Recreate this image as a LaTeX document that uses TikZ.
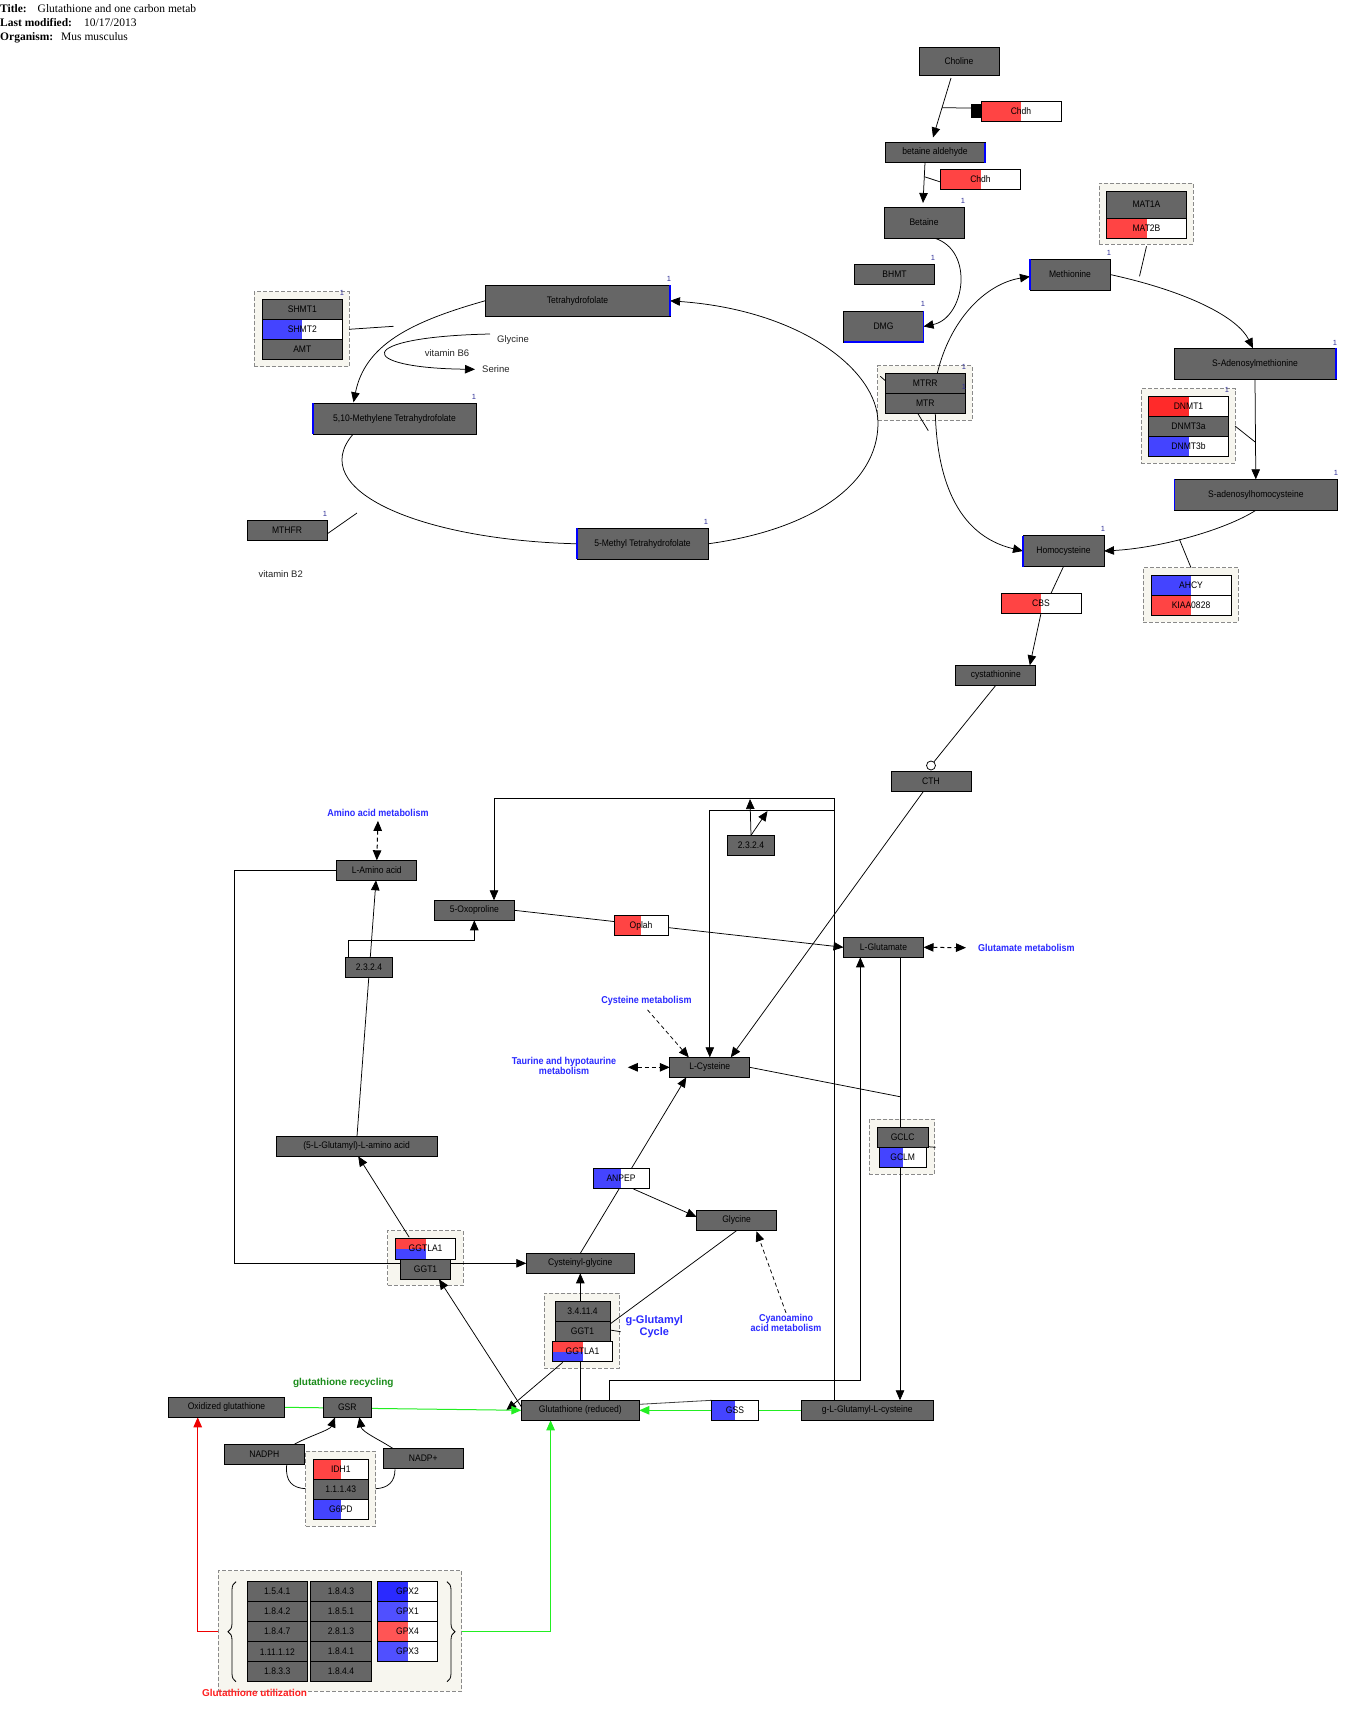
\documentclass[tikz,border=0pt]{standalone}
\usepackage{fontspec}
\setmainfont{Liberation Sans}
\newfontfamily\bxfont[FakeStretch=0.9]{Liberation Sans}
\newfontfamily\serfont{Liberation Serif}
\usetikzlibrary{arrows.meta,calc,decorations.pathreplacing}
\pgfdeclarelayer{bg}
\pgfdeclarelayer{edges}
\pgfsetlayers{bg,edges,main}
\definecolor{boxgray}{HTML}{666666}
\definecolor{hired}{HTML}{FF4444}
\definecolor{dkred}{HTML}{FF2A2A}
\definecolor{hiblue}{HTML}{4444FF}
\definecolor{dkblue}{HTML}{2A2AFF}
\definecolor{mdblue}{HTML}{5050FF}
\definecolor{gpxred}{HTML}{FF5555}
\definecolor{grpfill}{HTML}{F7F6EF}
\definecolor{grpline}{HTML}{8A8A8A}
\definecolor{lblue}{HTML}{2A2AFF}
\definecolor{lgreen}{HTML}{1A8C1A}
\definecolor{brgreen}{HTML}{22EE22}
\definecolor{brred}{HTML}{EE0000}
\definecolor{lred}{HTML}{FF2020}
\definecolor{numblue}{HTML}{333399}
\tikzset{
 box/.style={draw=black, line width=0.9pt, fill=boxgray, inner sep=0pt, outer sep=0pt, font=\bxfont\fontsize{9.5}{10}\selectfont, text=black},
 grp/.style={draw=grpline, dash pattern=on 4pt off 2pt, fill=grpfill, line width=0.8pt, inner sep=0pt, outer sep=0pt},
 ln/.style={line width=0.75pt, draw=black},
 arr/.style={ln, -{Triangle[length=10pt,width=8.5pt]}},
 dsarr/.style={ln, dash pattern=on 4pt off 3pt, -{Triangle[length=10pt,width=8.5pt]}},
 darr/.style={line width=1pt, draw=black, dash pattern=on 4pt off 3pt, {Triangle[length=10pt,width=8.5pt]}-{Triangle[length=10pt,width=8.5pt]}},
 garr/.style={line width=1pt, draw=brgreen, -{Triangle[length=10pt,width=8.5pt]}},
 rarr/.style={line width=1pt, draw=brred, -{Triangle[length=10pt,width=8.5pt]}},
 num/.style={text=numblue, font=\fontsize{7.5}{8}\selectfont, inner sep=0pt},
 lbl/.style={text=lblue, font=\bxfont\bfseries\fontsize{10}{10}\selectfont, align=center, inner sep=0pt},
 plain/.style={text=black!85, font=\fontsize{9.5}{10}\selectfont, inner sep=0pt},
 bedge/.style={draw=blue, line width=1.1pt},
 hdb/.style={anchor=base west, inner sep=0pt, font=\serfont\bfseries\fontsize{11.5}{13}\selectfont},
 hdr/.style={anchor=base west, inner sep=0pt, font=\serfont\fontsize{11.5}{13}\selectfont},
}
\newcommand\Bx[6]{\node[box,minimum width=#4pt,minimum height=#5pt] (#1) at (#2,#3) {#6};}
\newcommand\Gn[7]{\node[box,fill=white,minimum width=#5pt,minimum height=#6pt,path picture={\fill[#1] (path picture bounding box.south west) rectangle (path picture bounding box.north);}] (#2) at (#3,#4) {#7};}
\newcommand\Gm[6]{\node[box,fill=white,minimum width=#4pt,minimum height=#5pt,path picture={\fill[hired] (path picture bounding box.west) rectangle (path picture bounding box.north);\fill[hiblue] (path picture bounding box.south west) rectangle (path picture bounding box.center);}] (#1) at (#2,#3) {#6};}
\newcommand\Gp[5]{\node[grp,minimum width=#4pt,minimum height=#5pt] (#1) at (#2,#3) {};}
\newcommand\Nm[3]{\node[num] (#1) at (#2,#3) {1};}
\begin{document}
\begin{tikzpicture}[x=1pt,y=-1pt]
\begin{pgfonlayer}{bg}
\fill[white] (0,0) rectangle (1366,1730);
\Gp{gMAT}{1146}{213.5}{94}{61}
\Gp{gDNMT}{1188}{426}{94}{74.6}
\Gp{gAHCY}{1190.5}{595}{95}{54.6}
\Gp{gMTRR}{925}{393}{94.6}{54.3}
\Gp{gSHMT}{301.5}{329.3}{95}{75}
\Gp{gGCLC}{902}{1146.5}{65.6}{55}
\Gp{gGGTa}{425.3}{1258}{75.4}{54.6}
\Gp{gGGTb}{581.8}{1330.8}{75}{75}
\Gp{gIDH}{340.7}{1488.7}{70}{74.7}
\Gp{gGPX}{340}{1631}{243.4}{120.6}
\end{pgfonlayer}
\useasboundingbox (0,0) rectangle (1366,1730);

% header
\node[hdb] (hT) at (0,12.8) {Title:};
\node[hdr] (hTv) at (37.5,12.8) {Glutathione and one carbon metab};
\node[hdb] (hM) at (0,26.8) {Last modified:};
\node[hdr] (hMv) at (84,26.8) {10/17/2013};
\node[hdb] (hO) at (0,40.2) {Organism:};
\node[hdr] (hOv) at (61,40.2) {Mus musculus};

% top right
\Bx{choline}{959}{61}{80}{28}{Choline}
\Gn{hired}{chdh1}{1021}{111}{80}{20}{Chdh}
\Bx{betald}{935}{152.5}{100}{20}{betaine aldehyde}
\Gn{hired}{chdh2}{980.5}{179}{80}{20}{Chdh}
\Bx{betaine}{924}{222.5}{80}{31}{Betaine}
\Bx{bhmt}{894.5}{274}{80}{20}{BHMT}
\Bx{dmg}{883.5}{326.5}{80}{31}{DMG}
\Bx{mat1a}{1146.5}{204.5}{80}{27}{MAT1A}
\Gn{hired}{mat2b}{1146.5}{228.3}{80}{20}{MAT2B}
\Bx{methionine}{1070}{274.5}{80}{31}{Methionine}
\Bx{sam}{1255}{363.8}{162}{31}{S-Adenosylmethionine}
\Gn{dkred}{dnmt1}{1188.5}{406.5}{80}{20}{DNMT1}
\Bx{dnmt3a}{1188.5}{426.5}{80}{20}{DNMT3a}
\Gn{hiblue}{dnmt3b}{1188.5}{446.5}{80}{20}{DNMT3b}
\Bx{sah}{1255.8}{494.8}{163}{31}{S-adenosylhomocysteine}
\Bx{hcy}{1063.5}{551}{81}{31}{Homocysteine}
\Gn{hiblue}{ahcy}{1191}{585.7}{80}{20}{AHCY}
\Gn{hired}{kiaa}{1191}{605.7}{80}{20}{KIAA0828}
\Bx{mtrr}{925.3}{383.3}{80}{20}{MTRR}
\Bx{mtr}{925.3}{403.3}{80}{20}{MTR}
\Gn{hired}{cbs}{1041}{603.3}{80}{20}{CBS}
\Bx{cysta}{995.8}{675.3}{80}{20}{cystathionine}
\Bx{cth}{931}{781}{80}{20}{CTH}

% folate cycle
\Bx{shmt1}{302.3}{309.3}{80}{20}{SHMT1}
\Gn{hiblue}{shmt2}{302.3}{329.3}{80}{20}{SHMT2}
\Bx{amt}{302.3}{349.3}{80}{20}{AMT}
\Bx{thf}{577.5}{300.8}{185}{31}{Tetrahydrofolate}
\Bx{mthf510}{394.5}{418.8}{163}{31}{5,10-Methylene Tetrahydrofolate}
\Bx{mthfr}{287}{530}{80}{20}{MTHFR}
\Bx{methylthf}{642.5}{543.8}{131}{31}{5-Methyl Tetrahydrofolate}
\node[plain,anchor=west] (glyT) at (497,340) {Glycine};
\node[plain,anchor=west] (serT) at (482,369.3) {Serine};
\node[plain] (vb6T) at (447,352.7) {vitamin B6};
\node[plain,anchor=west] (vb2T) at (258.3,574) {vitamin B2};

% numbers
\Nm{n1}{963}{201}
\Nm{n2}{933}{258}
\Nm{n3}{923}{304}
\Nm{n4}{1109}{253}
\Nm{n5}{1335}{343}
\Nm{n6}{1227}{390}
\Nm{n7}{1336}{473}
\Nm{n8}{1103}{529}
\Nm{n9}{964}{367}
\Nm{n10}{964}{387}
\Nm{n11}{342}{293}
\Nm{n12}{669}{279}
\Nm{n13}{474}{397}
\Nm{n14}{325}{514}
\Nm{n15}{706}{522}

% lower part
\Bx{laa}{376.8}{870.3}{80}{20}{L-Amino acid}
\Bx{oxo}{474.3}{910.3}{80}{20}{5-Oxoproline}
\Bx{ecA}{751}{845.3}{47}{20}{2.3.2.4}
\Gn{hired}{oplah}{641}{925.8}{54}{20}{Oplah}
\Bx{glu}{883.5}{947.3}{80}{20}{L-Glutamate}
\Bx{ecB}{369}{967.3}{47}{20}{2.3.2.4}
\Bx{cys}{709.8}{1067.3}{80}{20}{L-Cysteine}
\Bx{gclc}{902.7}{1137.3}{51}{20}{GCLC}
\Gn{hiblue}{gclm}{902.7}{1157.3}{47}{20}{GCLM}
\Gn{hiblue}{anpep}{621}{1178.3}{56}{20}{ANPEP}
\Bx{glyB}{736.5}{1220.3}{80}{20}{Glycine}
\Bx{glamino}{356.6}{1146.3}{161}{20}{(5-L-Glutamyl)-L-amino acid}
\Gm{ggtla1a}{425.6}{1248.6}{60}{20.7}{GGTLA1}
\Bx{ggt1a}{425.6}{1269.3}{50}{20}{GGT1}
\Bx{cysgly}{580.3}{1263.3}{108}{20}{Cysteinyl-glycine}
\Bx{e34114}{582.5}{1311.7}{55}{20}{3.4.11.4}
\Bx{ggt1b}{582.5}{1331.7}{55}{20}{GGT1}
\Gm{ggtla1b}{582.5}{1351.7}{60}{20}{GGTLA1}
\Bx{gsh}{580.3}{1410.3}{118}{20}{Glutathione (reduced)}
\Gn{hiblue}{gss}{735}{1410.3}{47}{20}{GSS}
\Bx{gglc}{867.2}{1410.3}{132}{20}{g-L-Glutamyl-L-cysteine}
\Bx{gssg}{226.5}{1407.3}{116}{20}{Oxidized glutathione}
\Bx{gsr}{347.3}{1407.3}{47.5}{20}{GSR}
\Bx{nadph}{264.3}{1454.3}{80}{20}{NADPH}
\Bx{nadpp}{423.3}{1458.3}{80}{20}{NADP+}
\Gn{hired}{idh1}{340.8}{1469.3}{55}{20}{IDH1}
\Bx{e11143}{340.8}{1489.3}{55}{20}{1.1.1.43}
\Gn{hiblue}{g6pd}{340.8}{1509.3}{55}{20}{G6PD}

% GPX block
\Bx{c11}{277.3}{1591.7}{60}{20}{1.5.4.1}
\Bx{c12}{277.3}{1611.7}{60}{20}{1.8.4.2}
\Bx{c13}{277.3}{1631.7}{60}{20}{1.8.4.7}
\Bx{c14}{277.3}{1651.7}{60}{20}{1.11.1.12}
\Bx{c15}{277.3}{1671.7}{60}{20}{1.8.3.3}
\Bx{c21}{341}{1591.7}{60.6}{20}{1.8.4.3}
\Bx{c22}{341}{1611.7}{60.6}{20}{1.8.5.1}
\Bx{c23}{341}{1631.7}{60.6}{20}{2.8.1.3}
\Bx{c24}{341}{1651.7}{60.6}{20}{1.8.4.1}
\Bx{c25}{341}{1671.7}{60.6}{20}{1.8.4.4}
\Gn{dkblue}{gpx2}{407.5}{1591.7}{59.6}{20}{GPX2}
\Gn{mdblue}{gpx1}{407.5}{1611.7}{59.6}{20}{GPX1}
\Gn{gpxred}{gpx4}{407.5}{1631.7}{59.6}{20}{GPX4}
\Gn{mdblue}{gpx3}{407.5}{1651.7}{59.6}{20}{GPX3}
\draw[line width=0.8pt, decorate, decoration={brace, amplitude=8pt}] (236,1681.7) -- (236,1581.7);
\draw[line width=0.8pt, decorate, decoration={brace, amplitude=8pt}] (447,1581.7) -- (447,1681.7);

% labels
\node[lbl] (aamT) at (378,813) {Amino acid metabolism};
\node[lbl,anchor=west] (gmT) at (978,947.7) {Glutamate metabolism};
\node[lbl] (csT) at (646.5,1001) {Cysteine metabolism};
\node[lbl] (taurT) at (564,1066) {Taurine and hypotaurine\\metabolism};
\node[lbl] (cyT) at (786,1322.7) {Cyanoamino\\acid metabolism};
\node[text=lblue, font=\bfseries\fontsize{11}{11.6}\selectfont, align=center, inner sep=0pt] (ggcT) at (654.3,1326.5) {g-Glutamyl\\Cycle};
\node[text=lgreen, font=\bfseries\fontsize{10}{10}\selectfont, inner sep=0pt] (grT) at (343.3,1383.3) {glutathione recycling};
\node[text=lred, font=\bfseries\fontsize{10}{10}\selectfont, inner sep=0pt] (guT) at (254.5,1693.3) {Glutathione utilization};

% blue edges
\draw[bedge] (betald.north east) -- (betald.south east);
\draw[bedge] (dmg.north east) -- (dmg.south east) -- (dmg.south west);
\draw[bedge] (methionine.north west) -- (methionine.south west);
\draw[bedge] (sam.north east) -- (sam.south east);
\draw[bedge] (sah.north west) -- (sah.south west);
\draw[bedge] (hcy.north west) -- (hcy.south west);
\draw[bedge] (thf.north east) -- (thf.south east);
\draw[bedge] (mthf510.north west) -- (mthf510.south west);
\draw[bedge] (methylthf.north west) -- (methylthf.south west);

\begin{pgfonlayer}{edges}
% top right
\draw[arr] ($(choline.south)+(-8,3)$) -- coordinate[pos=0.5] (tA) ($(betald.north)+(-2,-5)$);
\draw[ln] (tA) -- ($(chdh1.west)+(-10,-3)$);
\fill ($(chdh1.west)+(-10,-7)$) rectangle ($(chdh1.west)+(0,7)$);
\draw[arr] ($(betald.south)+(-10,0)$) -- coordinate[pos=0.35] (tB) ($(betaine.north)+(-1,-4)$);
\draw[ln] (tB) -- ($(chdh2.west)+(0,3)$);
\draw[arr] ($(betaine.south)+(10,0)$) .. controls (975,250) and (965,318) .. (dmg.east);
\draw[ln] ($(mat2b.south)+(0,8)$) -- ($(mat2b.south)+(-7,38)$);
\draw[arr] (methionine.east) .. controls (1190,292) and (1238,318) .. ($(sam.north)+(-2,0)$);
\draw[arr] ($(mtrr.north)+(12,0)$) .. controls (950,320) and (985,284) .. ($(methionine.west)+(0,2)$);
\draw[arr] (sam.south) -- coordinate[pos=0.63] (tC) (sah.north);
\draw[ln] (gDNMT.east) -- (tC);
\draw[arr] (sah.south) .. controls (1225,530) and (1160,548) .. coordinate[pos=0.56] (tD) (hcy.east);
\draw[ln] ($(gAHCY.north)+(0.5,0)$) -- (tD);
\draw[arr] ($(mtr.south)+(10,0)$) .. controls (937,475) and (955,535) .. (hcy.west);
\draw[ln] ($(mtrr.west)+(-5,-7)$) -- ($(mtrr.west)+(0,-2.6)$);
\draw[ln] ($(mtr.south)+(-7.6,0)$) -- ($(mtr.south)+(3,17.4)$);
\draw[ln] (hcy.south) -- ($(cbs.north)+(10,0)$);
\draw[arr] (cbs.south) -- ($(cysta.north)+(34,0)$);
\draw[ln] (cysta.south) -- ($(cth.north)+(0,-5.5)$);
% folate
\draw[ln] (gSHMT.east) -- ++(44.5,-3);
\draw[arr] (thf.west) .. controls (410,322) and (365,345) .. ($(mthf510.north)+(-41,-1)$);
\draw[arr] ($(glyT.west)+(-7,-6)$) .. controls (352,337) and (355,368) .. ($(serT.west)+(-7,0)$);
\draw[arr] (methylthf.east) .. controls (810,530) and (878,485) .. (878,423) .. controls (878,370) and (800,310) .. (thf.east);
\draw[ln] ($(mthf510.south)+(-41.5,0)$) .. controls (305,490) and (420,540) .. (methylthf.west);
\draw[ln] ($(mthfr.east)+(0,4)$) -- ++(30,-21);
% lower
\draw[darr] ($(aamT.south)+(0,4)$) -- (laa.north);
\draw[arr] (laa.west) -| (234.4,1263.3) -- (cysgly.west);
\draw[arr] ($(gglc.north)+(-33,0)$) |- (494,798.3) -- ($(oxo.north)+(19.7,0)$);
\coordinate (jA) at (834.2,810.3);
\draw[arr] (jA) -| (cys.north);
\draw[arr] ($(gsh.north)+(29,0)$) |- (860.3,1380) -- ($(glu.south)+(-23.2,0)$);
\coordinate (jB) at (750,799);
\coordinate (jC) at (767.5,811);
\draw[arr] (ecA.north) -- (jB);
\draw[arr] (ecA.north) -- (jC);
\draw[arr] (oxo.east) -- (glu.west);
\draw[darr] (glu.east) -- ($(gmT.west)+(-12,0)$);
\draw[arr] ($(glu.south)+(16.5,0)$) -- ($(gglc.north)+(32.8,0)$);
\coordinate (jD) at (900,1096.7);
\draw[ln] (cys.east) -- (jD);
\draw[ln] ($(gclc.east)+(0,9.4)$) -- ++(7.4,0.6);
\draw[arr] ($(cth.south)+(-8,1)$) -- ($(cys.north)+(21,0)$);
\draw[dsarr] ($(csT.south)+(1,4)$) -- ($(cys.north)+(-21,0)$);
\draw[darr] ($(cys.west)+(-42,0)$) -- (cys.west);
\draw[arr] (cysgly.north) -- ($(cys.south)+(-23.5,0)$);
\draw[arr] ($(anpep.south)+(12.5,0.7)$) -- ($(glyB.west)+(0,-3.5)$);
\draw[ln] ($(glyB.south)+(0,0.4)$) -- ($(ggt1b.east)+(0,-7.7)$);
\draw[dsarr] ($(cyT.north)+(0,-1)$) -- ($(glyB.south)+(20,1)$);
\draw[ln] ($(ggt1b.east)+(0,-1.7)$) -- ($(ggt1b.east)+(10.7,0)$);
\draw[arr] (gsh.north) -- (cysgly.south);
\draw[arr] ($(ggtla1b.south)+(-19.7,0.6)$) -- ($(gsh.west)+(-15,0)$);
\draw[arr] ($(gsh.west)+(0,-3.6)$) -- ($(ggt1a.south)+(13.4,0)$);
\draw[arr] ($(ggtla1a.north)+(-16.4,-1)$) -- ($(glamino.south)+(1.6,0)$);
\draw[arr] ($(glamino.north)+(0.4,0)$) -- ($(laa.south)+(-0.8,0)$);
\draw[arr] ($(ecB.north)+(-20.5,0)$) |- (474.3,940.3) -- (oxo.south);
\draw[garr] (gssg.east) -- (gsh.west);
\draw[garr] (gglc.west) -- (gsh.east);
\draw[line width=0.8pt, draw=black!75] (gss.north west) -- ($(gsh.east)+(0,-6)$);
\draw[arr] ($(nadph.north)+(30,0)$) .. controls (307,1437) and (330,1430) .. ($(gsr.south)+(-12.3,0)$);
\draw[arr] ($(nadpp.north)+(-30.6,0)$) .. controls (380,1440) and (362,1432) .. ($(gsr.south)+(12,0)$);
\draw[ln] ($(nadph.south)+(22.4,0.7)$) .. controls (285,1482) and (293,1488) .. (gIDH.west);
\draw[ln] ($(nadpp.south)+(-28.3,1)$) .. controls (395,1482) and (388,1488) .. (gIDH.east);
\draw[garr] (gGPX.east) -| ($(gsh.south)+(-29.7,0)$);
\draw[rarr] (gGPX.west) -| ($(gssg.south)+(-28.8,0)$);
\end{pgfonlayer}
\draw[ln, fill=white] ($(cth.north)+(0,-5.5)$) circle (4.5pt);
\end{tikzpicture}
\end{document}
